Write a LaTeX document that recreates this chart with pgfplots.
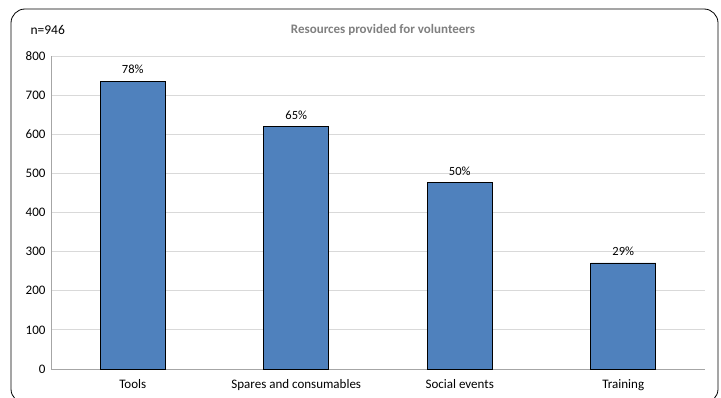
\documentclass[border=0pt]{standalone}
\usepackage{pgfplots}
\pgfplotsset{compat=1.18}
\usepackage{pgfplotstable}
\usepackage{fontspec}
\setmainfont{Carlito}
\definecolor{barblue}{HTML}{4F81BD}
\definecolor{gridgray}{HTML}{D9D9D9}
\definecolor{titlegray}{HTML}{7F7F7F}
\pgfplotstableread{
x y lab
0 736 78\%
1 619 65\%
2 477 50\%
3 271 29\%
}\datatable
\begin{document}
\begin{tikzpicture}[x=1pt,y=1pt]
\useasboundingbox (0,0) rectangle (721,397);
\draw[black, line width=0.8pt, rounded corners=14pt] (11,388) rectangle (718,-6);
\node[anchor=west, font=\fontsize{13.5}{15}\selectfont] at (27,367) {n=946};
\node[font=\fontsize{13}{15}\selectfont\bfseries, text=titlegray] at (383,367) {Resources provided for volunteers};
\begin{axis}[
  at={(51pt,28pt)}, anchor=south west,
  scale only axis, width=654pt, height=313pt,
  xmin=-0.5, xmax=3.5, ymin=0, ymax=800,
  ytick={0,100,...,800},
  xtick={0,1,2,3},
  xticklabels={Tools,Spares and consumables,Social events,Training},
  axis x line*=bottom, axis y line*=left,
  axis line style={draw=gray!70, line width=0.8pt, -},
  ymajorgrids, grid style={gridgray, line width=0.8pt},
  tick style={draw=none},
  /pgf/number format/assume math mode=true,
  tick label style={font=\fontsize{13}{15}\selectfont},
  yticklabel style={xshift=-2pt},
  xticklabel style={yshift=-3pt},
  ybar, bar width=65pt,
  nodes near coords,
  point meta=explicit symbolic,
  every node near coord/.append style={font=\fontsize{12.5}{14}\selectfont, text=black, yshift=3.5pt},
]
\addplot[fill=barblue, draw=black, line width=0.8pt] table[x=x, y=y, meta=lab] {\datatable};
\end{axis}
\end{tikzpicture}
\end{document}
